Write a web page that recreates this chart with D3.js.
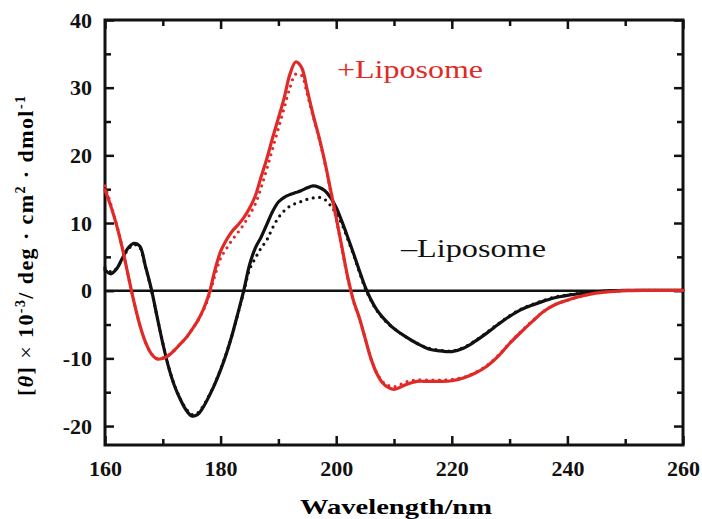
<!DOCTYPE html>
<html>
<head>
<meta charset="utf-8">
<script src="https://cdn.jsdelivr.net/npm/d3@7"></script>
<style>
  body { margin: 0; background: #fff; }
  text { font-family: "Liberation Serif", "Times New Roman", Times, serif; }
</style>
</head>
<body>
<svg id="chart"></svg>
<script>
// CD spectra, with and without liposome

let width = 702, height = 519;
let margin = {top: 20, right: 19, bottom: 74, left: 105};
let serif = "'Liberation Serif', 'Times New Roman', Times, serif";

// wavelengths (nm) for the curves
let wlMinus = [160,161,162,163,164,165,166,167,168,169,170,171,172,173,174,175,176,177,178,179,180,181,182,183,184,185,186,187,188,189,190,191,192,193,194,195,196,197,198,199,200,201,202,203,204,205,206,207,208,209,210,212,214,216,218,220,222,224,226,228,230,232,234,236,238,240,242,244,246,248,250,253,256,260];
let minusSolid = [3.1,2.5,3.2,4.8,6.3,7.0,6.6,3.6,0.3,-3.8,-7.8,-11.3,-14.0,-16.0,-17.6,-18.5,-18.3,-17.2,-15.6,-13.8,-11.7,-9.3,-6.5,-3.3,0.0,3.8,6.3,7.9,9.8,11.7,13.1,13.8,14.2,14.5,14.8,15.2,15.5,15.3,14.8,13.8,12.3,10.2,7.9,5.5,3.0,0.6,-1.3,-2.8,-3.9,-4.8,-5.6,-6.8,-7.8,-8.6,-8.9,-9.0,-8.5,-7.5,-6.3,-5.0,-3.8,-2.8,-2.1,-1.5,-1.0,-0.7,-0.45,-0.25,-0.1,0.0,0.05,0.05,0.05,0.05];
let minusDotted = [3.4,2.8,3.3,4.7,6.1,6.8,6.4,3.5,0.2,-3.8,-7.7,-11.2,-13.9,-15.9,-17.4,-18.3,-18.1,-17.0,-15.5,-13.7,-11.6,-9.2,-6.5,-3.4,-0.2,3.1,4.8,6.3,7.5,9.3,10.8,11.8,12.5,12.9,13.2,13.5,13.7,13.8,13.5,12.6,11.4,9.8,7.6,5.3,2.8,0.4,-1.4,-2.9,-4.0,-4.9,-5.6,-6.8,-7.8,-8.5,-8.8,-8.9,-8.4,-7.4,-6.2,-4.9,-3.7,-2.7,-2.0,-1.4,-0.9,-0.6,-0.4,-0.2,-0.1,0.0,0.05,0.05,0.05,0.05];

let wlPlus = [160,161,162,163,164,165,166,167,168,169,170,171,172,173,174,175,176,177,178,179,180,181,182,183,184,185,186,187,188,189,190,191,192,193,194,195,196,197,198,199,200,201,202,203,204,205,206,207,208,209,210,211,212,213,214,216,218,220,222,224,226,228,230,232,234,236,238,240,242,244,246,248,250,253,256,260];
let plusSolid = [14.9,12.5,9.7,6.3,2.3,-1.6,-5.0,-7.6,-9.3,-10.1,-10.0,-9.6,-8.8,-7.9,-7.0,-5.8,-4.5,-2.8,-0.5,3.0,5.8,7.5,8.8,9.7,10.8,12.2,14.0,16.8,19.5,22.6,25.5,28.5,32.0,33.8,33.0,29.6,26.0,22.8,19.2,15.0,10.8,6.4,2.0,-1.5,-4.0,-7.0,-10.0,-12.2,-13.6,-14.3,-14.6,-14.3,-13.9,-13.6,-13.4,-13.4,-13.4,-13.3,-12.9,-12.2,-11.2,-9.7,-7.8,-6.1,-4.5,-3.0,-2.0,-1.4,-0.9,-0.5,-0.25,-0.1,0.0,0.05,0.05,0.05];
let plusDotted = [15.5,12.8,9.8,6.3,2.3,-1.6,-5.0,-7.6,-9.3,-10.0,-9.9,-9.5,-8.8,-7.9,-7.0,-5.8,-4.5,-2.9,-0.8,2.2,4.8,6.2,7.5,8.6,9.8,11.2,12.8,15.2,18.0,21.0,24.0,27.0,30.0,32.0,31.8,29.0,25.8,22.6,19.0,14.8,10.6,6.2,1.8,-1.6,-4.1,-7.0,-10.0,-12.1,-13.4,-14.0,-14.2,-13.9,-13.5,-13.3,-13.2,-13.2,-13.2,-13.1,-12.8,-12.1,-11.1,-9.6,-7.7,-6.0,-4.4,-3.0,-2.0,-1.4,-0.9,-0.5,-0.25,-0.1,0.0,0.05,0.05,0.05];

let xMajor = [160,180,200,220,240,260];
let xMinor = [170,190,210,230,250];
let yMajor = [-20,-10,0,10,20,30,40];
let yMinor = [-15,-5,5,15,25,35];

let red = "#e02a27", black = "#111111";

let svg = d3.select("#chart")
  .attr("width", width)
  .attr("height", height);

let x = d3.scaleLinear()
  .domain([160, 260])
  .range([margin.left, width - margin.right]);

let y = d3.scaleLinear()
  .domain([-22.8, 40])
  .range([height - margin.bottom, margin.top]);

// ticks, all pointing inward
function tickGroup(axis, tx, ty) {
  let g = svg.append("g")
    .attr("transform", "translate(" + tx + "," + ty + ")")
    .call(axis);
  g.attr("font-family", null);
  g.select(".domain").remove();
  g.selectAll("line").attr("stroke", black).attr("stroke-width", 2.5);
  g.selectAll("text")
    .attr("fill", black)
    .style("font-size", "22px")
    .style("font-weight", "bold")
    .style("font-family", serif);
  return g;
}

let yb = height - margin.bottom, xr = width - margin.right;
let plain = d => String(d);   // keep the short hyphen for negatives

tickGroup(d3.axisBottom(x).tickValues(xMajor).tickFormat(plain).tickSize(-9).tickPadding(15), 0, yb);
tickGroup(d3.axisBottom(x).tickValues(xMinor).tickFormat("").tickSize(-6), 0, yb);
tickGroup(d3.axisTop(x).tickValues(xMajor).tickFormat("").tickSize(-9), 0, margin.top);
tickGroup(d3.axisTop(x).tickValues(xMinor).tickFormat("").tickSize(-6), 0, margin.top);

tickGroup(d3.axisLeft(y).tickValues(yMajor).tickFormat(plain).tickSize(-9).tickPadding(13), margin.left, 0);
tickGroup(d3.axisLeft(y).tickValues(yMinor).tickFormat("").tickSize(-6), margin.left, 0);
tickGroup(d3.axisRight(y).tickValues(yMajor).tickFormat("").tickSize(-9), xr, 0);
tickGroup(d3.axisRight(y).tickValues(yMinor).tickFormat("").tickSize(-6), xr, 0);

// zero line
svg.append("line")
  .attr("x1", margin.left).attr("x2", xr)
  .attr("y1", y(0)).attr("y2", y(0))
  .attr("stroke", black)
  .attr("stroke-width", 2.5);

// frame
svg.append("rect")
  .attr("x", margin.left).attr("y", margin.top)
  .attr("width", xr - margin.left)
  .attr("height", yb - margin.top)
  .attr("fill", "none")
  .attr("stroke", black)
  .attr("stroke-width", 3);

let line = d3.line()
  .x(d => x(d[0]))
  .y(d => y(d[1]))
  .curve(d3.curveCatmullRom);

let series = [
  {wl: wlMinus, v: minusDotted, color: black, dotted: true},
  {wl: wlPlus, v: plusDotted, color: red, dotted: true},
  {wl: wlMinus, v: minusSolid, color: black, dotted: false},
  {wl: wlPlus, v: plusSolid, color: red, dotted: false}
];

svg.append("g")
  .selectAll("path")
  .data(series)
  .enter()
  .append("path")
  .attr("d", s => line(s.wl.map((w, i) => [w, s.v[i]])))
  .attr("fill", "none")
  .attr("stroke", s => s.color)
  .attr("stroke-width", 3.2)
  .attr("stroke-linecap", "round")
  .attr("stroke-dasharray", s => s.dotted ? "0 6.5" : null);

// curve labels
svg.append("text")
  .attr("x", 337).attr("y", 78)
  .attr("fill", red)
  .attr("textLength", 146)
  .attr("lengthAdjust", "spacingAndGlyphs")
  .style("font-size", "25px")
  .text("+Liposome");

svg.append("text")
  .attr("x", 401).attr("y", 257)
  .attr("fill", black)
  .attr("textLength", 145)
  .attr("lengthAdjust", "spacingAndGlyphs")
  .style("font-size", "26px")
  .text("\u2013Liposome");

// axis titles
svg.append("text")
  .attr("x", 396).attr("y", 514)
  .attr("text-anchor", "middle")
  .attr("textLength", 192)
  .attr("lengthAdjust", "spacingAndGlyphs")
  .style("font-size", "22px")
  .style("font-weight", "bold")
  .text("Wavelength/nm");

let yt = svg.append("text")
  .attr("transform", "translate(33,246) rotate(-90)")
  .attr("text-anchor", "middle")
  .attr("textLength", 300)
  .attr("lengthAdjust", "spacing")
  .style("font-size", "22px")
  .style("font-weight", "bold");
yt.append("tspan").text("[");
yt.append("tspan").style("font-style", "italic").text("\u03B8");
yt.append("tspan").text("] ");
yt.append("tspan").style("font-weight", "normal").text("\u00D7");
yt.append("tspan").text(" 10");
yt.append("tspan").attr("dy", -8).style("font-size", "14px").text("-3");
yt.append("tspan").attr("dy", 8).text("/ deg ");
yt.append("tspan").text("\u00B7");
yt.append("tspan").text(" cm");
yt.append("tspan").attr("dy", -8).style("font-size", "14px").text("2");
yt.append("tspan").attr("dy", 8).text(" \u00B7 dmol");
yt.append("tspan").attr("dy", -8).style("font-size", "14px").text("-1");
</script>
</body>
</html>
